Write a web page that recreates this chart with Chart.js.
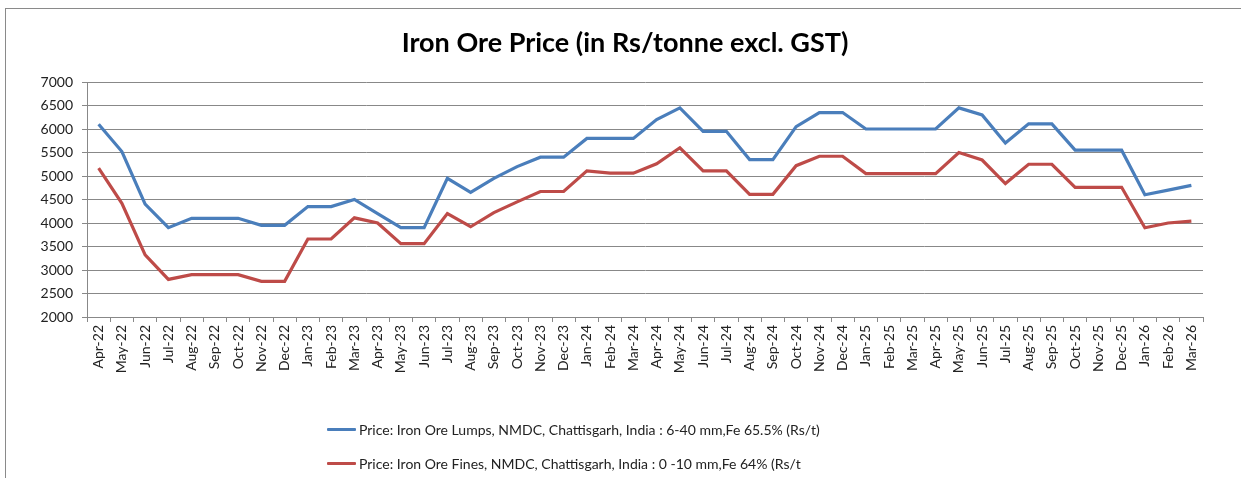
<!DOCTYPE html>
<html>
<head>
<meta charset="utf-8">
<script src="https://cdn.jsdelivr.net/npm/chart.js@4.4.1/dist/chart.umd.min.js"></script>
<style>
  html, body { margin: 0; padding: 0; background: #fff; }
  #wrap { position: relative; width: 1241px; height: 478px; overflow: hidden; }
  #frame { position: absolute; left: 5px; top: 8px; width: 1300px; height: 500px;
           border-left: 1px solid #8a8a8a; border-top: 1px solid #8a8a8a; box-sizing: border-box; }
  canvas { position: absolute; left: 0; top: 0; }
  #title { position: absolute; left: 325px; width: 600px; top: 26px; height: 32px; line-height: 32px;
           text-align: center; font-family: Lato, "Liberation Sans", sans-serif; font-weight: bold;
           font-size: 27px; color: #000; white-space: nowrap; }
  #legend { position: absolute; left: 327px; top: 412px; font-family: Lato, "Liberation Sans", sans-serif;
            font-size: 14px; color: #222; }
  .item { display: flex; align-items: center; height: 34px; }
  .swatch { width: 29px; height: 3px; margin-right: 3px; border-radius: 1px; }
</style>
</head>
<body>
<div id="wrap">
  <div id="frame"></div>
  <canvas id="c" width="1241" height="478"></canvas>
  <div id="title"></div>
  <div id="legend"></div>
</div>
<script>
const categories = [
  "Apr-22","May-22","Jun-22","Jul-22","Aug-22","Sep-22","Oct-22","Nov-22","Dec-22","Jan-23","Feb-23","Mar-23",
  "Apr-23","May-23","Jun-23","Jul-23","Aug-23","Sep-23","Oct-23","Nov-23","Dec-23","Jan-24","Feb-24","Mar-24",
  "Apr-24","May-24","Jun-24","Jul-24","Aug-24","Sep-24","Oct-24","Nov-24","Dec-24","Jan-25","Feb-25","Mar-25",
  "Apr-25","May-25","Jun-25","Jul-25","Aug-25","Sep-25","Oct-25","Nov-25","Dec-25","Jan-26","Feb-26","Mar-26"
];
const lumpsLabel = "Price: Iron Ore Lumps, NMDC, Chattisgarh, India : 6-40 mm,Fe 65.5% (Rs/t)";
const finesLabel = "Price: Iron Ore Fines, NMDC, Chattisgarh, India : 0 -10 mm,Fe 64% (Rs/t";
const lumps = [
  6100, 5520, 4400, 3900, 4100, 4100, 4100, 3950, 3950, 4350, 4350, 4500,
  4200, 3900, 3900, 4950, 4650, 4950, 5200, 5400, 5400, 5800, 5800, 5800,
  6200, 6450, 5950, 5950, 5350, 5350, 6050, 6350, 6350, 6000, 6000, 6000,
  6000, 6450, 6300, 5700, 6110, 6110, 5550, 5550, 5550, 4600, 4700, 4800
];
const fines = [
  5170, 4420, 3320, 2800, 2900, 2900, 2900, 2760, 2760, 3660, 3660, 4110,
  4000, 3560, 3560, 4200, 3920, 4220, 4450, 4670, 4670, 5110, 5060, 5060,
  5260, 5600, 5110, 5110, 4610, 4610, 5220, 5420, 5420, 5050, 5050, 5050,
  5050, 5500, 5340, 4840, 5250, 5250, 4760, 4760, 4760, 3900, 4000, 4040
];
const yMin = 2000, yMax = 7000, yStep = 500;
const titleText = "Iron Ore Price (in Rs/tonne excl. GST)";

const font = "Lato, 'Liberation Sans', sans-serif";
const gridGray = "#888888";

document.getElementById("title").textContent = titleText;

const chart = new Chart(document.getElementById("c"), {
  type: "line",
  data: {
    labels: categories,
    datasets: [
      { label: lumpsLabel, data: lumps, borderColor: "#4A7EBB", backgroundColor: "#4A7EBB",
        borderWidth: 3.2, pointRadius: 0, tension: 0, fill: false },
      { label: finesLabel, data: fines, borderColor: "#BE4B48", backgroundColor: "#BE4B48",
        borderWidth: 3.2, pointRadius: 0, tension: 0, fill: false }
    ]
  },
  options: {
    responsive: false,
    animation: false,
    layout: { padding: { left: 20, right: 38, top: 82, bottom: 91 } },
    plugins: {
      legend: { display: false },
      tooltip: { enabled: false },
      title: { display: false }
    },
    scales: {
      x: {
        offset: true,
        grid: { drawOnChartArea: false, drawTicks: true, tickLength: 5, color: gridGray, offset: true },
        border: { display: true, color: gridGray, width: 1 },
        ticks: { autoSkip: false, maxRotation: 90, minRotation: 90, color: "#222", padding: 3,
                 font: { family: font, size: 14 } },
        afterFit: s => { s.height = 70; }
      },
      y: {
        min: yMin, max: yMax,
        grid: { color: gridGray, lineWidth: 1, tickLength: 5, drawTicks: true },
        border: { display: true, color: gridGray, width: 1 },
        ticks: { stepSize: yStep, color: "#222", padding: 9, font: { family: font, size: 14 },
                 callback: v => String(v) },
        afterFit: s => { s.width = 67; }
      }
    }
  }
});

const leg = document.getElementById("legend");
chart.data.datasets.forEach(ds => {
  const row = document.createElement("div"); row.className = "item";
  const sw = document.createElement("div"); sw.className = "swatch"; sw.style.background = ds.borderColor;
  const tx = document.createElement("span"); tx.textContent = ds.label;
  row.appendChild(sw); row.appendChild(tx); leg.appendChild(row);
});
</script>
</body>
</html>
